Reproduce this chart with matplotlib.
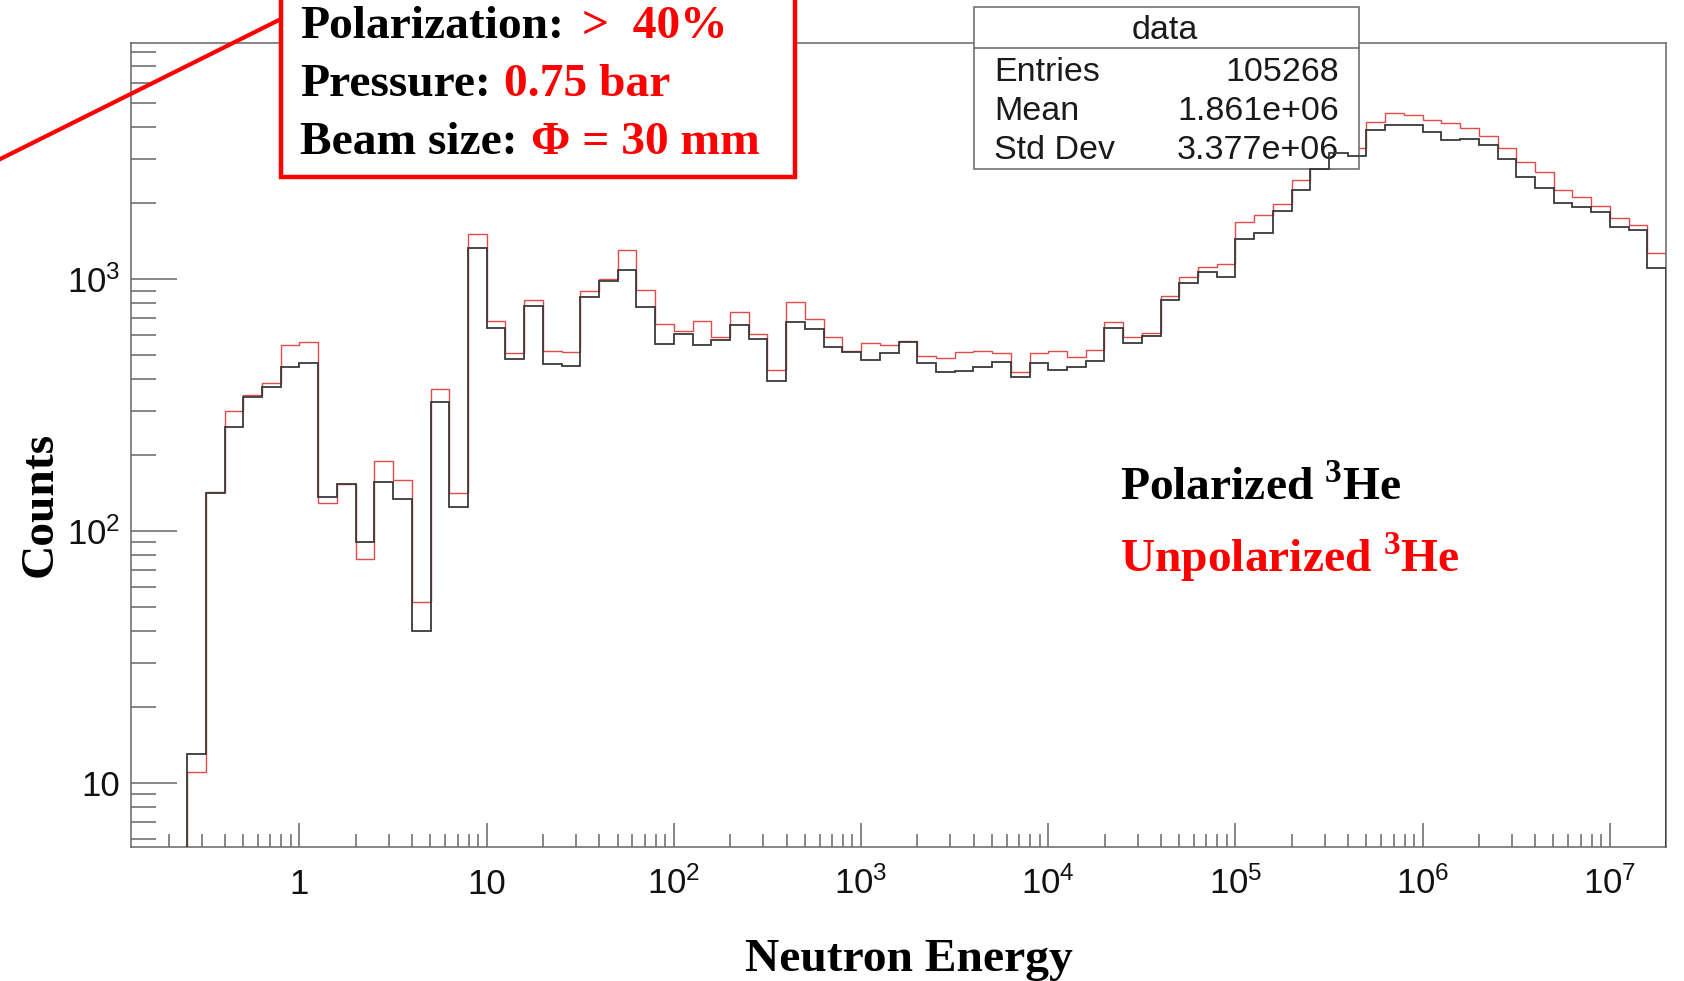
import numpy as np
import matplotlib
matplotlib.use("Agg")
import matplotlib.pyplot as plt
from matplotlib.ticker import FixedLocator, FixedFormatter, LogLocator, NullFormatter
from matplotlib.patches import Rectangle
from matplotlib.lines import Line2D
from matplotlib.text import Annotation

plt.rcParams['mathtext.fontset'] = 'custom'
plt.rcParams['mathtext.sf'] = 'Liberation Sans'
plt.rcParams['mathtext.rm'] = 'Liberation Serif'
plt.rcParams['mathtext.bf'] = 'Liberation Serif:bold'

# ---- data -------------------------------------------------------------
# log10 of the lower edge of the first filled bin, and bin width in decades
log_e_first = -0.6
log_e_width = 0.1
log_e_axis = (-0.9, 7.3)

polarized = [
    13, 141, 259, 340, 374, 449, 462, 136, 153, 90,
    156, 134, 40, 324, 124, 1331, 637, 481, 782, 458,
    451, 846, 982, 1083, 777, 552, 604, 547, 573, 657,
    576, 394, 676, 631, 538, 513, 477, 507, 564, 462,
    428, 432, 449, 469, 409, 462, 434, 449, 473, 640,
    555, 595, 825, 961, 1069, 1021, 1438, 1528, 1870, 2258,
    2735, 3170, 3085, 3920, 4080, 4093, 3828, 3565, 3595, 3405,
    2991, 2546, 2306, 2009, 1937, 1850, 1614, 1566, 1103,
]
unpolarized = [
    11, 143, 300, 345, 385, 547, 561, 129, 154, 77,
    190, 159, 52, 367, 141, 1506, 682, 507, 826, 518,
    514, 900, 1000, 1304, 904, 662, 624, 682, 590, 740,
    603, 437, 807, 693, 590, 518, 559, 547, 569, 494,
    484, 514, 519, 509, 426, 509, 519, 489, 522, 678,
    590, 612, 856, 1021, 1119, 1144, 1691, 1796, 1985, 2480,
    2950, 3400, 3300, 4217, 4550, 4466, 4285, 4160, 3975, 3700,
    3305, 2925, 2669, 2261, 2125, 1951, 1742, 1640, 1265,
]

x_tick_values = [1, 10, 1e2, 1e3, 1e4, 1e5, 1e6, 1e7]
x_tick_labels = ['1', '10', r'$\mathsf{10^{2}}$', r'$\mathsf{10^{3}}$',
                 r'$\mathsf{10^{4}}$', r'$\mathsf{10^{5}}$',
                 r'$\mathsf{10^{6}}$', r'$\mathsf{10^{7}}$']
y_tick_values = [10, 100, 1000]
y_tick_labels = ['10', r'$\mathsf{10^{2}}$', r'$\mathsf{10^{3}}$']
y_range = (5.56, 8650)

stats_title = 'data'
stats_names = ['Entries', 'Mean', 'Std Dev']
stats_values = ['105268', '1.861e+06', '3.377e+06']

settings = [
    ('Polarization:', '>  40%'),
    ('Pressure:', '0.75 bar'),
    ('Beam size:', '\u03a6 = 30 mm'),
]
series_names = [r'Polarized $^{\mathbf{3}}$He', r'Unpolarized $^{\mathbf{3}}$He']

# ---- figure -------------------------------------------------------------
W, H, DPI = 1684, 981, 100
fig = plt.figure(figsize=(W / DPI, H / DPI), dpi=DPI)
fig.patch.set_facecolor('white')


def fx(x):
    return x / W


def fy(y):
    return 1 - y / H


SERIF = 'Liberation Serif'
SANS = 'Liberation Sans'
BIG = 34.2
TICKFS = 25
FRAME = '#666666'
BLACK_H = '#3a3a3a'
RED_H = '#e24a4a'
RED = '#ff0000'

L, R, T, B = 131, 1666, 43, 847
ax = fig.add_axes([fx(L), fy(B), (R - L) / W, (B - T) / H])
ax.set_xscale('log')
ax.set_yscale('log')
ax.set_xlim(10 ** log_e_axis[0], 10 ** log_e_axis[1])
ax.set_ylim(*y_range)

edges = 10 ** (log_e_first + log_e_width * np.arange(len(polarized) + 1))
ax.stairs(unpolarized, edges, baseline=1e-3, color=RED_H, lw=1.0, zorder=2)
ax.stairs(polarized, edges, baseline=1e-3, color=BLACK_H, lw=1.3, zorder=5)

for s in ax.spines.values():
    s.set_color(FRAME)
    s.set_linewidth(1.1)

ax.xaxis.set_major_locator(FixedLocator(x_tick_values))
ax.xaxis.set_major_formatter(FixedFormatter(x_tick_labels))
ax.xaxis.set_minor_locator(LogLocator(base=10, subs=np.arange(2, 10), numticks=100))
ax.xaxis.set_minor_formatter(NullFormatter())
ax.yaxis.set_major_locator(FixedLocator(y_tick_values))
ax.yaxis.set_major_formatter(FixedFormatter(y_tick_labels))
ax.yaxis.set_minor_locator(LogLocator(base=10, subs=np.arange(2, 10), numticks=100))
ax.yaxis.set_minor_formatter(NullFormatter())

ax.tick_params(which='both', direction='in', color=FRAME, width=1.1,
               top=False, right=False, labelcolor='#111111',
               labelsize=TICKFS, labelfontfamily=SANS)
ax.tick_params(axis='x', which='major', length=17.3, pad=33.5)
ax.tick_params(axis='x', which='minor', length=9.4)
ax.tick_params(axis='y', which='major', length=33, pad=8)
ax.tick_params(axis='y', which='minor', length=18)
for lab in ax.get_xticklabels():
    lab.set_verticalalignment('baseline')

# statistics box (sits between the two histograms in drawing order)
sb_l, sb_r, sb_t, sb_b, sb_div = 974, 1359, 7, 169, 48
ax.add_patch(Rectangle((fx(sb_l), fy(sb_b)), (sb_r - sb_l) / W, (sb_b - sb_t) / H,
                       transform=fig.transFigure, facecolor='white',
                       edgecolor=FRAME, lw=1.1, zorder=3, clip_on=False))
ax.add_line(Line2D([fx(sb_l), fx(sb_r)], [fy(sb_div), fy(sb_div)],
                   transform=fig.transFigure, color=FRAME, lw=1.1,
                   zorder=3.1, clip_on=False))
stat_kw = dict(transform=fig.transFigure, family=SANS, fontsize=24.5,
               color='#1a1a1a', va='baseline', zorder=4, clip_on=False)
ax.text(fx(1165), fy(39), stats_title, ha='center', **stat_kw)
for i, (name, val) in enumerate(zip(stats_names, stats_values)):
    yb = 81 + i * 39.2
    ax.text(fx(994), fy(yb), name, ha='left', **stat_kw)
    ax.text(fx(1339), fy(yb), val, ha='right', **stat_kw)

# axis titles
fig.text(fx(909), fy(971), 'Neutron Energy', family=SERIF, weight='bold',
         fontsize=BIG, ha='center', va='baseline')
fig.text(fx(52), fy(504), 'Counts', family=SERIF, weight='bold',
         fontsize=BIG, rotation=90, rotation_mode='anchor',
         ha='center', va='baseline')

# series labels
fig.text(fx(1120), fy(500), series_names[0], family=SERIF, weight='bold',
         fontsize=BIG, color='black', ha='left', va='baseline')
fig.text(fx(1120), fy(572), series_names[1], family=SERIF, weight='bold',
         fontsize=BIG, color=RED, ha='left', va='baseline')

# callout with measurement settings
fig.add_artist(Line2D([fx(-120), fx(281)], [fy(219), fy(19)], color=RED,
                      lw=3.0, zorder=5))
fig.add_artist(Rectangle((fx(281), fy(177)), (795 - 281) / W, (177 + 30) / H,
                         transform=fig.transFigure, facecolor='white',
                         edgecolor=RED, lw=3.2, zorder=6))
txt_kw = dict(family=SERIF, weight='bold', fontsize=BIG, zorder=7)
for i, (key, val) in enumerate(settings):
    base = 38.5 + i * 57.5
    t = fig.text(fx(300), fy(base), key, color='black', ha='left',
                 va='baseline', **txt_kw)
    gap = 13 if i == 0 else 9.5
    fig.add_artist(Annotation(val, xy=(1, 0), xycoords=t,
                              xytext=(gap, 0), textcoords='offset points',
                              color=RED, ha='left', va='bottom', **txt_kw))

fig.savefig('out.png', dpi=DPI, facecolor='white')
